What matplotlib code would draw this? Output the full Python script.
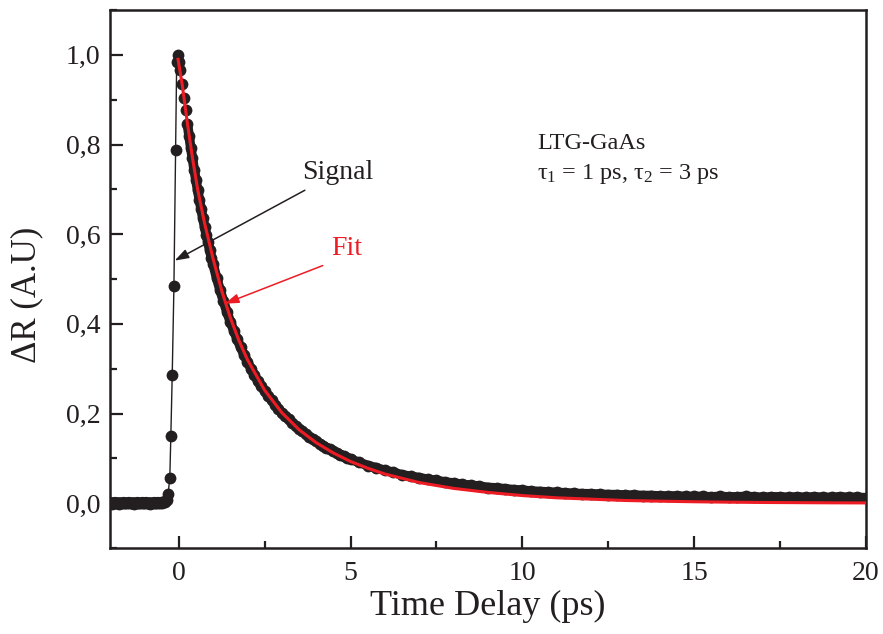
#!/usr/bin/env python3

'''
Pump-probe reflectivity transient of LTG-GaAs with a bi-exponential fit.
'''

import matplotlib
matplotlib.use('Agg')
import matplotlib.pyplot as plt
from matplotlib.ticker import MultipleLocator, FuncFormatter

# Data
base_t = [-2.0, -1.95, -1.9, -1.85, -1.8, -1.75, -1.7, -1.65, -1.6, -1.55,
          -1.5, -1.45, -1.4, -1.35, -1.3, -1.25, -1.2, -1.15, -1.1, -1.05,
          -1.0, -0.95, -0.9, -0.85, -0.8, -0.75, -0.7, -0.65, -0.6, -0.55,
          -0.5, -0.45, -0.4]
base_y = [0.000, -0.001, 0.000, 0.001, 0.000, -0.001, 0.000, 0.000, 0.001,
          0.000, 0.000, 0.001, 0.000, 0.000, -0.001, 0.000, 0.001, 0.000,
          0.000, 0.001, 0.000, 0.001, 0.000, -0.001, 0.000, 0.000, 0.001,
          0.000, 0.001, 0.000, 0.001, 0.002, 0.003]

rise_t = [-0.35, -0.31, -0.26, -0.23, -0.19, -0.14, -0.09, -0.06, -0.03]
rise_y = [0.008, 0.020, 0.057, 0.150, 0.285, 0.485, 0.787, 0.985, 1.000]

decay_t = [0.00, 0.05, 0.10, 0.15, 0.20, 0.25, 0.30, 0.35, 0.40, 0.45, 0.50,
           0.55, 0.60, 0.65, 0.70, 0.75, 0.80, 0.85, 0.90, 0.95, 1.00,
           1.1, 1.2, 1.3, 1.4, 1.5, 1.6, 1.7, 1.8, 1.9, 2.0,
           2.1, 2.2, 2.3, 2.4, 2.5, 2.6, 2.7, 2.8, 2.9, 3.0,
           3.1, 3.2, 3.3, 3.4, 3.5, 3.6, 3.7, 3.8, 3.9, 4.0,
           4.1, 4.2, 4.3, 4.4, 4.5, 4.6, 4.7, 4.8, 4.9,
           5.0, 5.25, 5.5, 5.75, 6.0, 6.25, 6.5, 6.75, 7.0, 7.25, 7.5,
           7.75, 8.0, 8.25, 8.5, 8.75, 9.0, 9.25, 9.5, 9.75, 10.0,
           10.25, 10.5, 10.75, 11.0, 11.25, 11.5, 11.75, 12.0, 12.25, 12.5,
           12.75, 13.0, 13.25, 13.5, 13.75, 14.0, 14.25, 14.5, 14.75, 15.0,
           15.25, 15.5, 15.75, 16.0, 16.25, 16.5, 16.75, 17.0, 17.25, 17.5,
           17.75, 18.0, 18.25, 18.5, 18.75, 19.0, 19.25, 19.5, 19.75, 20.0]
decay_y = [0.985, 0.966, 0.936, 0.903, 0.876, 0.846, 0.820, 0.792, 0.769, 0.743, 0.721,
           0.698, 0.677, 0.656, 0.636, 0.617, 0.599, 0.582, 0.565, 0.548, 0.533,
           0.503, 0.476, 0.451, 0.427, 0.405, 0.385, 0.366, 0.348, 0.331, 0.316,
           0.300, 0.286, 0.273, 0.261, 0.250, 0.240, 0.230, 0.220, 0.211, 0.202,
           0.194, 0.187, 0.179, 0.172, 0.166, 0.160, 0.154, 0.148, 0.143, 0.138,
           0.133, 0.128, 0.124, 0.120, 0.116, 0.112, 0.108, 0.105, 0.101,
           0.098, 0.091, 0.084, 0.079, 0.073, 0.069, 0.063, 0.060, 0.057, 0.053, 0.051,
           0.047, 0.045, 0.042, 0.040, 0.038, 0.035, 0.034, 0.032, 0.030, 0.029,
           0.027, 0.026, 0.025, 0.024, 0.023, 0.022, 0.021, 0.021, 0.020, 0.019,
           0.019, 0.018, 0.018, 0.017, 0.017, 0.016, 0.016, 0.016, 0.015, 0.015,
           0.015, 0.014, 0.015, 0.014, 0.014, 0.015, 0.014, 0.013, 0.014, 0.014,
           0.013, 0.014, 0.013, 0.014, 0.013, 0.013, 0.014, 0.013, 0.013, 0.012]

fit_t = [-0.02, 0.1, 0.25, 0.4, 0.55, 0.75, 1.0, 1.25, 1.5, 1.75, 2.0, 2.5, 3.0,
         3.5, 4.0, 4.5, 5.0, 5.5, 6.0, 7.0, 8.0, 9.0, 10.0, 11.0, 12.0, 13.0,
         14.0, 15.0, 16.0, 17.0, 18.0, 19.0, 20.0]
fit_y = [0.99, 0.934, 0.848, 0.770, 0.700, 0.625, 0.545, 0.474, 0.414, 0.363,
         0.320, 0.252, 0.202, 0.164, 0.135, 0.112, 0.093, 0.078, 0.065, 0.046,
         0.033, 0.024, 0.017, 0.012, 0.009, 0.006, 0.0045, 0.0032, 0.0023,
         0.0016, 0.0012, 0.0008, 0.0006]

x_ticks = [0, 5, 10, 15, 20]
y_ticks = [0.0, 0.2, 0.4, 0.6, 0.8, 1.0]

INK = '#231f20'
RED = '#ed1c24'


def comma(v, pos):
    return f'{v:.1f}'.replace('.', ',')


def main():
    plt.rcParams['font.family'] = ['Liberation Serif', 'DejaVu Serif']
    plt.rcParams['mathtext.fontset'] = 'custom'
    plt.rcParams['mathtext.rm'] = 'Liberation Serif'
    plt.rcParams['mathtext.it'] = 'Liberation Serif'

    fig = plt.figure(figsize=(8.83, 6.34), dpi=100)
    ax = fig.add_axes([0.1246, 0.1356, 0.8561, 0.8486])

    sig_t = base_t + rise_t + decay_t
    sig_y = base_y + rise_y + decay_y
    ax.plot(sig_t, sig_y, '-', color=INK, lw=1.0, zorder=2)
    # the dense points merge into a solid band, so back them with a thick stroke
    ax.plot(base_t, base_y, '-', color=INK, lw=8.5, solid_capstyle='round', zorder=2)
    ax.plot(decay_t[5:], decay_y[5:], '-', color=INK, lw=7.0,
            solid_capstyle='round', zorder=2)
    ax.plot(sig_t, sig_y, 'o', color=INK, ms=8.5, mec='none', zorder=3)
    ax.plot(fit_t, fit_y, '-', color=RED, lw=2.2, zorder=4)

    ax.set_xlim(-2, 20)
    ax.set_ylim(-0.1, 1.1)
    ax.set_xticks(x_ticks)
    ax.set_yticks(y_ticks)
    ax.xaxis.set_minor_locator(MultipleLocator(2.5))
    ax.yaxis.set_minor_locator(MultipleLocator(0.1))
    ax.yaxis.set_major_formatter(FuncFormatter(comma))
    ax.tick_params(which='both', direction='in', color=INK, labelcolor=INK,
                   width=1.6, labelsize=20)
    ax.tick_params(which='major', length=9)
    ax.tick_params(which='minor', length=5)
    ax.tick_params(axis='x', pad=9)
    ax.tick_params(axis='y', pad=7)
    for s in ax.spines.values():
        s.set_linewidth(1.8)
        s.set_color(INK)

    ax.set_xlabel('Time Delay (ps)', fontsize=26, color=INK, labelpad=3)
    ax.set_ylabel('ΔR (A.U)', fontsize=25, color=INK)
    ax.yaxis.set_label_coords(-0.088, 0.47)

    # annotations
    ax.text(4.63, 0.738, 'Signal', fontsize=20, color=INK, ha='center', va='center')
    ax.annotate('', xy=(-0.12, 0.541), xytext=(3.67, 0.698),
                arrowprops=dict(arrowstyle='-|>,head_length=0.6,head_width=0.2',
                                color=INK, lw=1.1, mutation_scale=14,
                                shrinkA=0, shrinkB=0))
    ax.text(4.9, 0.568, 'Fit', fontsize=20, color=RED, ha='center', va='center')
    ax.annotate('', xy=(1.34, 0.445), xytext=(4.19, 0.530),
                arrowprops=dict(arrowstyle='-|>,head_length=0.6,head_width=0.2',
                                color=RED, lw=1.1, mutation_scale=14,
                                shrinkA=0, shrinkB=0))
    ax.text(10.42, 0.803, 'LTG-GaAs', fontsize=17.5, color=INK, ha='left', va='center')
    ax.text(10.42, 0.735, r'$\tau_1$ = 1 ps, $\tau_2$ = 3 ps', fontsize=17.5,
            color=INK, ha='left', va='center')

    fig.savefig('out.png', dpi=100)


if __name__ == '__main__':
    main()
